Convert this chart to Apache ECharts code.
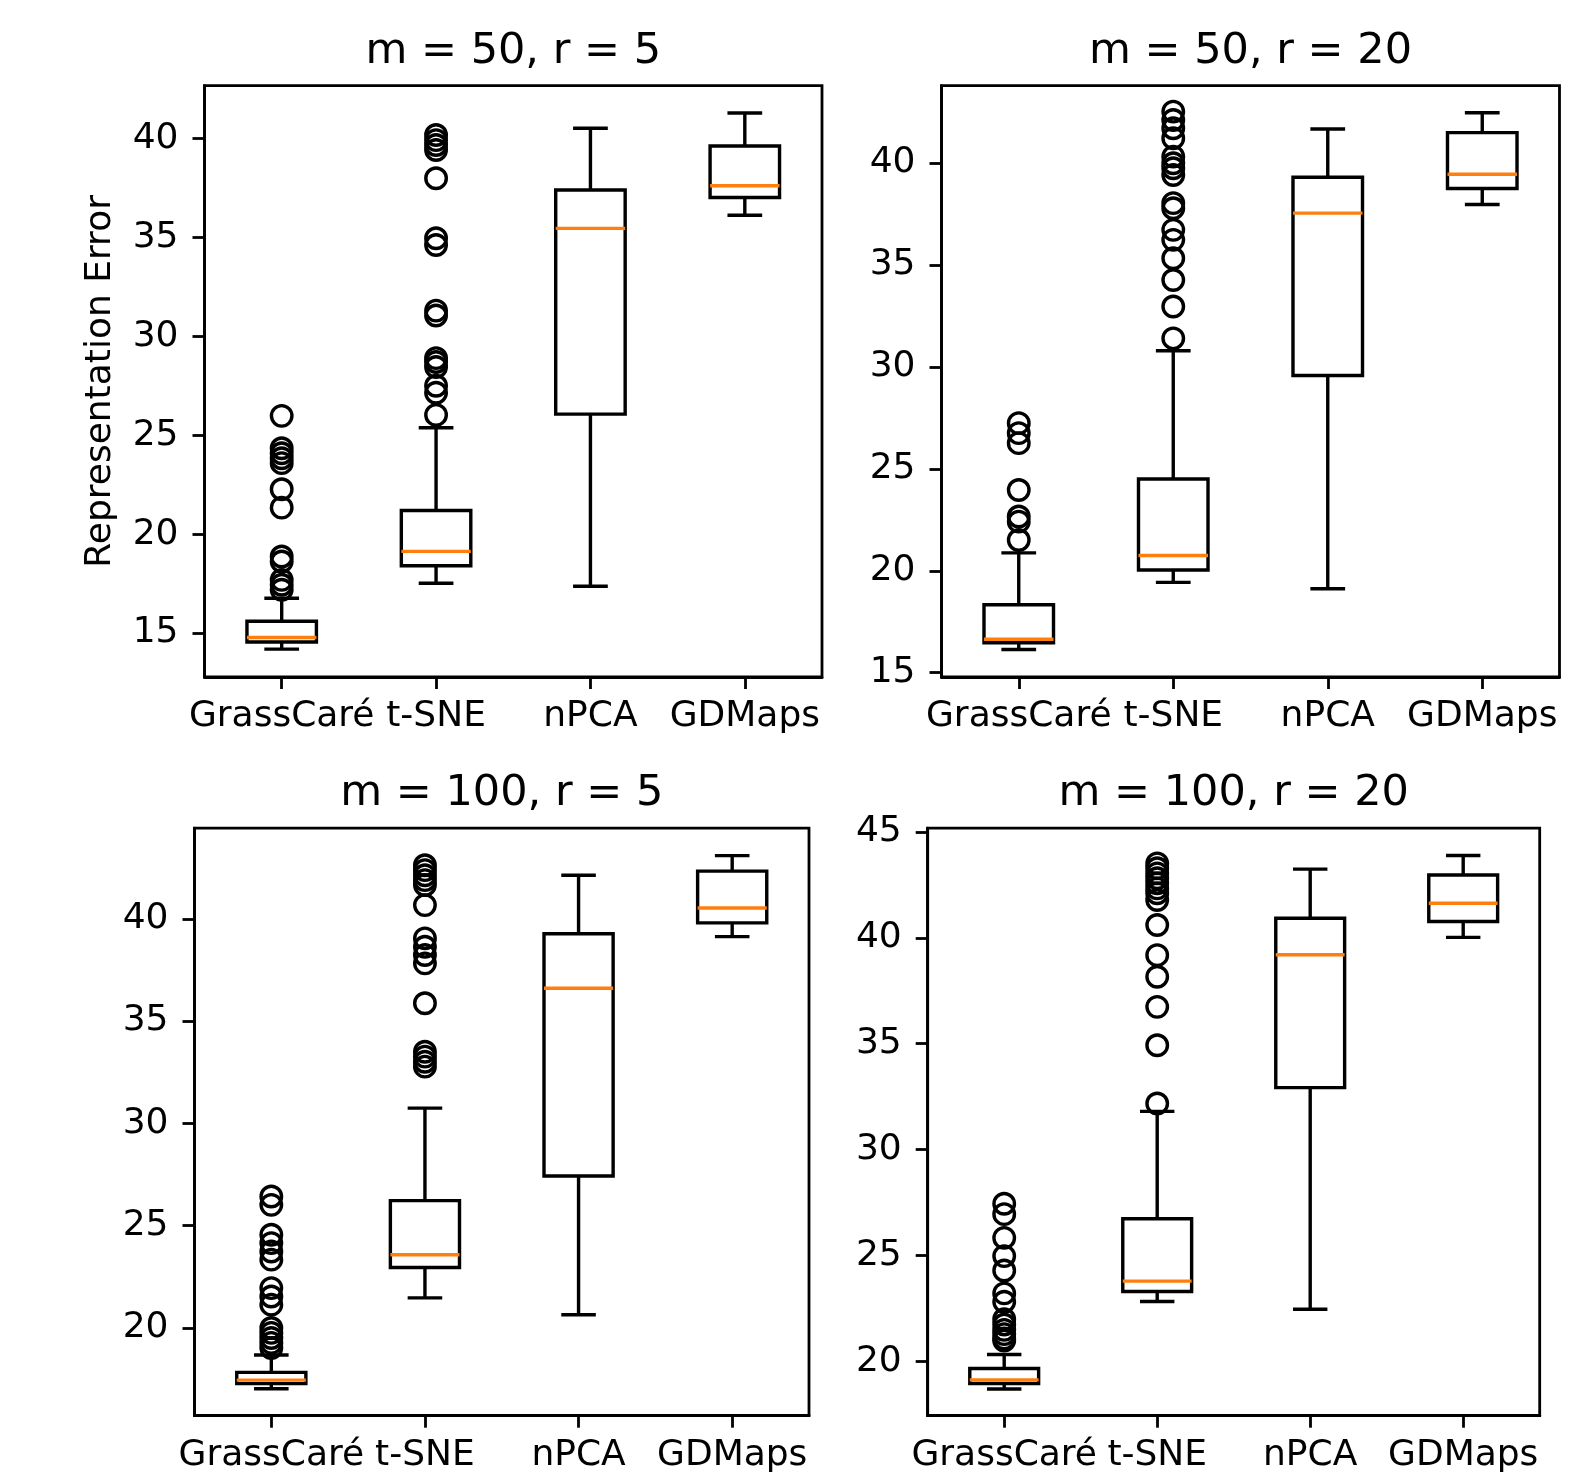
<!DOCTYPE html>
<html>
<head>
<meta charset="utf-8">
<title>Representation Error</title>
<script src="https://cdn.jsdelivr.net/npm/echarts@6.0.0/dist/echarts.min.js"></script>
<style>
  html, body { margin: 0; padding: 0; background: #fff; }
  #ech { width: 1590px; height: 1473px; }
</style>
</head>
<body>
<div id="ech"></div>
<script>
// methods on every x axis
const methods = ['GrassCaré', 't-SNE', 'nPCA', 'GDMaps'];
const panelTitles = ['m = 50, r = 5', 'm = 50, r = 20', 'm = 100, r = 5', 'm = 100, r = 20'];

// box stats per method: [whisker low, Q1, median, Q3, whisker high]
const boxM50R5 = [
    [14.19, 14.55, 14.78, 15.60, 16.76],
    [17.52, 18.40, 19.13, 21.20, 25.38],
    [17.37, 26.07, 35.46, 37.40, 40.52],
    [36.12, 37.02, 37.61, 39.62, 41.29]
];
const boxM50R20 = [
    [16.14, 16.47, 16.64, 18.33, 20.88],
    [19.43, 20.04, 20.75, 24.50, 30.79],
    [19.12, 29.58, 37.54, 39.30, 41.67],
    [37.96, 38.75, 39.45, 41.49, 42.46]
];
const boxM100R5 = [
    [17.02, 17.27, 17.44, 17.82, 18.67],
    [21.46, 22.95, 23.57, 26.22, 30.74],
    [20.64, 27.42, 36.60, 39.27, 42.13],
    [39.13, 39.80, 40.53, 42.33, 43.09]
];
const boxM100R20 = [
    [18.71, 18.97, 19.14, 19.68, 20.34],
    [22.84, 23.31, 23.80, 26.74, 31.81],
    [22.47, 32.93, 39.20, 40.92, 43.24],
    [40.02, 40.77, 41.63, 42.96, 43.88]
];

// outliers per method
const outM50R5 = [
    [25.98, 24.34, 24.09, 23.84, 23.59, 22.27, 21.34, 18.87, 18.62, 17.69, 17.44, 17.19],
    [40.18, 39.92, 39.67, 39.42, 37.99, 34.96, 34.62, 31.30, 31.05, 28.90, 28.70, 28.45, 27.50, 27.15, 26.03],
    [],
    []
];
const outM50R20 = [
    [27.24, 26.75, 26.26, 23.96, 22.66, 22.41, 21.51],
    [42.52, 42.11, 41.70, 41.21, 40.31, 39.99, 39.74, 39.41, 38.03, 37.78, 36.72, 36.23, 35.33, 34.26, 32.96, 31.40],
    [],
    []
];
const outM100R5 = [
    [26.42, 26.01, 24.55, 24.14, 23.73, 23.33, 21.94, 21.53, 21.13, 19.99, 19.75, 19.50, 19.26, 19.01],
    [42.62, 42.38, 42.13, 41.89, 41.65, 40.67, 39.04, 38.63, 38.23, 37.82, 35.87, 33.50, 33.26, 33.01, 32.77],
    [],
    []
];
const outM100R20 = [
    [27.45, 26.96, 25.84, 24.98, 24.30, 23.22, 22.83, 22.00, 21.75, 21.50, 21.30, 21.10, 21.00],
    [43.51, 43.28, 43.04, 42.81, 42.57, 42.33, 42.10, 41.78, 40.60, 39.18, 38.16, 36.74, 34.93, 32.18],
    [],
    []
];

// y tick labels
const ticksM50R5 = [15, 20, 25, 30, 35, 40];
const ticksM50R20 = [15, 20, 25, 30, 35, 40];
const ticksM100R5 = [20, 25, 30, 35, 40];
const ticksM100R20 = [20, 25, 30, 35, 40, 45];

// y axis limits
const limM50R5 = [12.78, 42.67];
const limM50R20 = [14.79, 43.79];
const limM100R5 = [15.70, 44.43];
const limM100R20 = [17.45, 45.17];

const boxes = [boxM50R5, boxM50R20, boxM100R5, boxM100R20];
const outs = [outM50R5, outM50R20, outM100R5, outM100R20];
const ticks = [ticksM50R5, ticksM50R20, ticksM100R5, ticksM100R20];
const lims = [limM50R5, limM50R20, limM100R5, limM100R20];

// plot areas in px (left, top, width, height)
const grids = [
    { left: 204.5, top: 85.7, width: 617.5, height: 591.3 },
    { left: 941.5, top: 85.7, width: 618, height: 591.3 },
    { left: 194.5, top: 828.2, width: 614.5, height: 587.5 },
    { left: 927.7, top: 828.2, width: 612, height: 587.5 }
];
const titleTops = [30, 30, 772.5, 772.5];

const FONT = 'DejaVu Sans';
const lineBlack = { color: '#000', width: 2.8 };

// matplotlib-like box: half-width caps, orange median
function drawBox(params, api) {
    const i = api.value(0);
    const lo = api.coord([i, api.value(1)]);
    const q1 = api.coord([i, api.value(2)]);
    const md = api.coord([i, api.value(3)]);
    const q3 = api.coord([i, api.value(4)]);
    const hi = api.coord([i, api.value(5)]);
    const band = api.size([1, 0])[0];
    const half = band * 0.45 / 2;
    const cap = band * 0.225 / 2;
    const x = lo[0];
    const st = { stroke: '#000', lineWidth: 3.4, fill: 'none' };
    return {
        type: 'group',
        children: [
            { type: 'line', shape: { x1: x, y1: q1[1], x2: x, y2: lo[1] }, style: st },
            { type: 'line', shape: { x1: x, y1: q3[1], x2: x, y2: hi[1] }, style: st },
            { type: 'line', shape: { x1: x - cap, y1: lo[1], x2: x + cap, y2: lo[1] }, style: st },
            { type: 'line', shape: { x1: x - cap, y1: hi[1], x2: x + cap, y2: hi[1] }, style: st },
            { type: 'rect', shape: { x: x - half, y: q3[1], width: half * 2, height: q1[1] - q3[1] }, style: st },
            { type: 'line', shape: { x1: x - half, y1: md[1], x2: x + half, y2: md[1] }, style: { stroke: '#ff7f0e', lineWidth: 3.4 } }
        ]
    };
}

let ownChart = echarts.init(document.getElementById('ech'));

var option = {
    backgroundColor: '#fff',
    animation: false,
    title: panelTitles.map(function (t, k) {
        return {
            text: t,
            left: grids[k].left + grids[k].width / 2,
            top: titleTops[k],
            textAlign: 'center',
            padding: 0,
            textStyle: { fontSize: 43, fontWeight: 'normal', color: '#000', fontFamily: FONT }
        };
    }),
    grid: grids.map(function (g) {
        return {
            left: g.left, top: g.top, width: g.width, height: g.height,
            show: true, borderColor: '#000', borderWidth: 2.8, backgroundColor: '#fff',
            containLabel: false, outerBoundsMode: 'none'
        };
    }),
    xAxis: grids.map(function (g, k) {
        return {
            gridIndex: k,
            type: 'category',
            data: methods,
            boundaryGap: true,
            axisLine: { show: true, lineStyle: lineBlack },
            axisTick: { show: true, alignWithLabel: true, length: 12, lineStyle: lineBlack },
            axisLabel: { interval: 0, fontSize: 36, color: '#000', fontFamily: FONT, margin: 22 },
            splitLine: { show: false }
        };
    }),
    yAxis: grids.map(function (g, k) {
        return {
            gridIndex: k,
            type: 'value',
            min: lims[k][0],
            max: lims[k][1],
            name: k === 0 ? 'Representation Error' : '',
            nameLocation: 'middle',
            nameGap: 86,
            nameTextStyle: { fontSize: 36, color: '#000', fontFamily: FONT },
            axisLine: { show: true, lineStyle: lineBlack },
            axisTick: { show: true, length: 12, lineStyle: lineBlack, customValues: ticks[k] },
            axisLabel: { fontSize: 36, color: '#000', fontFamily: FONT, margin: 26, customValues: ticks[k] },
            splitLine: { show: false }
        };
    }),
    series: []
};

boxes.forEach(function (stats, k) {
    option.series.push({
        type: 'custom',
        xAxisIndex: k,
        yAxisIndex: k,
        renderItem: drawBox,
        encode: { x: 0, y: [1, 2, 3, 4, 5] },
        data: stats.map(function (s, i) { return [i].concat(s); }),
        silent: true,
        z: 2
    });
    option.series.push({
        type: 'scatter',
        xAxisIndex: k,
        yAxisIndex: k,
        symbol: 'circle',
        symbolSize: 20.5,
        itemStyle: { color: 'rgba(0,0,0,0)', borderColor: '#000', borderWidth: 3.4, opacity: 1 },
        data: outs[k].reduce(function (acc, arr, i) {
            return acc.concat(arr.map(function (v) { return [i, v]; }));
        }, []),
        silent: true,
        z: 3
    });
});

ownChart.setOption(option);
</script>
</body>
</html>
